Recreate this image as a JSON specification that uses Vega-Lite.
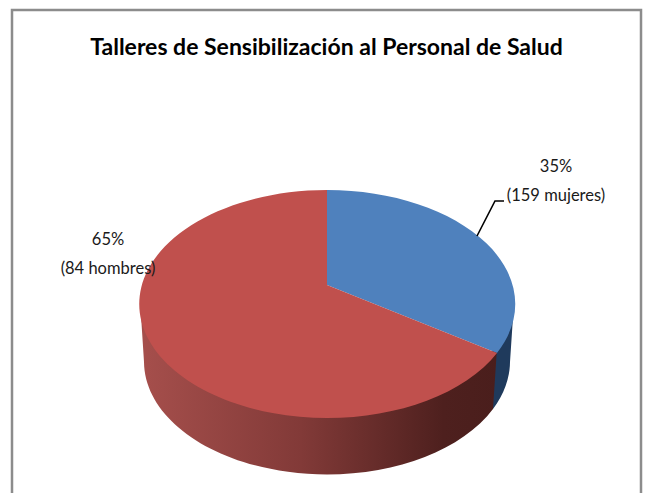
{
  "$schema": "https://vega.github.io/schema/vega-lite/v6.json",
  "width": 645,
  "height": 493,
  "autosize": "none",
  "padding": 0,
  "background": "white",
  "view": {"stroke": null},
  "title": {"text": "Talleres de Sensibilización al Personal de Salud", "font": "Lato", "fontSize": 23, "fontWeight": "bold", "color": "#000000", "anchor": "middle", "dx": 4, "dy": 60, "offset": 0},
  "data": {"values": [
    {"genero": "mujeres", "porcentaje": 35, "personas": 159, "etiqueta": "35%\n(159 mujeres)"},
    {"genero": "hombres", "porcentaje": 65, "personas": 84, "etiqueta": "65%\n(84 hombres)"}
  ]},
  "encoding": {
    "x": {"datum": 327, "type": "quantitative", "scale": {"domain": [0, 645], "nice": false, "zero": false}, "axis": null},
    "y": {"datum": 304, "type": "quantitative", "scale": {"domain": [493, 0], "nice": false, "zero": false}, "axis": null}
  },
  "layer": [
    {
      "data": {"values": [{"marco": "borde"}]},
      "mark": {"type": "rect", "fill": null, "stroke": "#8c8c8c", "strokeWidth": 2.5},
      "encoding": {
        "x": {"datum": 12},
        "x2": {"datum": 641},
        "y": {"datum": 10},
        "y2": {"datum": 505}
      }
    },
    {
      "transform": [{"filter": "datum.genero === 'mujeres'"}],
      "mark": {"type": "point", "filled": true, "opacity": 1, "size": 4, "fill": "#1f3a5c", "stroke": null,
        "shape": "M187,-2 L165,42 L166,105 A183,113 0 0 0 183,58 Z"}
    },
    {
      "transform": [{"filter": "datum.genero === 'hombres'"}],
      "mark": {"type": "point", "filled": true, "opacity": 1, "size": 4, "stroke": null,
        "fill": {"gradient": "linear", "x1": 0, "y1": 0, "x2": 1, "y2": 0, "stops": [
          {"offset": 0, "color": "#a64f4c"},
          {"offset": 0.45, "color": "#823a38"},
          {"offset": 0.85, "color": "#4e201e"},
          {"offset": 1, "color": "#4a1e1c"}
        ]},
        "shape": "M170,44 A188,114 0 0 1 -187,-4 L-183,58 A183,113 0 0 0 166,105 Z"}
    },
    {
      "transform": [{"filter": "datum.genero === 'mujeres'"}],
      "mark": {"type": "point", "filled": true, "opacity": 1, "size": 4, "fill": "#4f81bd", "stroke": null,
        "shape": "M0,-19 L0,-114 A188,114 0 0 1 170,49 Z"}
    },
    {
      "transform": [{"filter": "datum.genero === 'hombres'"}],
      "mark": {"type": "point", "filled": true, "opacity": 1, "size": 4, "fill": "#c0504d", "stroke": null,
        "shape": "M0,-19 L170,49 A188,114 0 1 1 0,-114 Z"}
    },
    {
      "transform": [{"filter": "datum.genero === 'mujeres'"}],
      "mark": {"type": "point", "filled": false, "opacity": 1, "size": 4, "stroke": "#000000", "strokeWidth": 1.6,
        "shape": "M150,-68 L168,-103 L177,-103"}
    },
    {
      "transform": [{"filter": "datum.genero === 'mujeres'"}],
      "mark": {"type": "text", "font": "Lato", "fontSize": 16.5, "color": "#1a1a1a", "align": "center", "baseline": "middle", "lineBreak": "\n", "lineHeight": 29},
      "encoding": {
        "x": {"datum": 556},
        "y": {"datum": 167},
        "text": {"field": "etiqueta"}
      }
    },
    {
      "transform": [{"filter": "datum.genero === 'hombres'"}],
      "mark": {"type": "text", "font": "Lato", "fontSize": 16.5, "color": "#1a1a1a", "align": "center", "baseline": "middle", "lineBreak": "\n", "lineHeight": 29},
      "encoding": {
        "x": {"datum": 108},
        "y": {"datum": 240},
        "text": {"field": "etiqueta"}
      }
    }
  ]
}
